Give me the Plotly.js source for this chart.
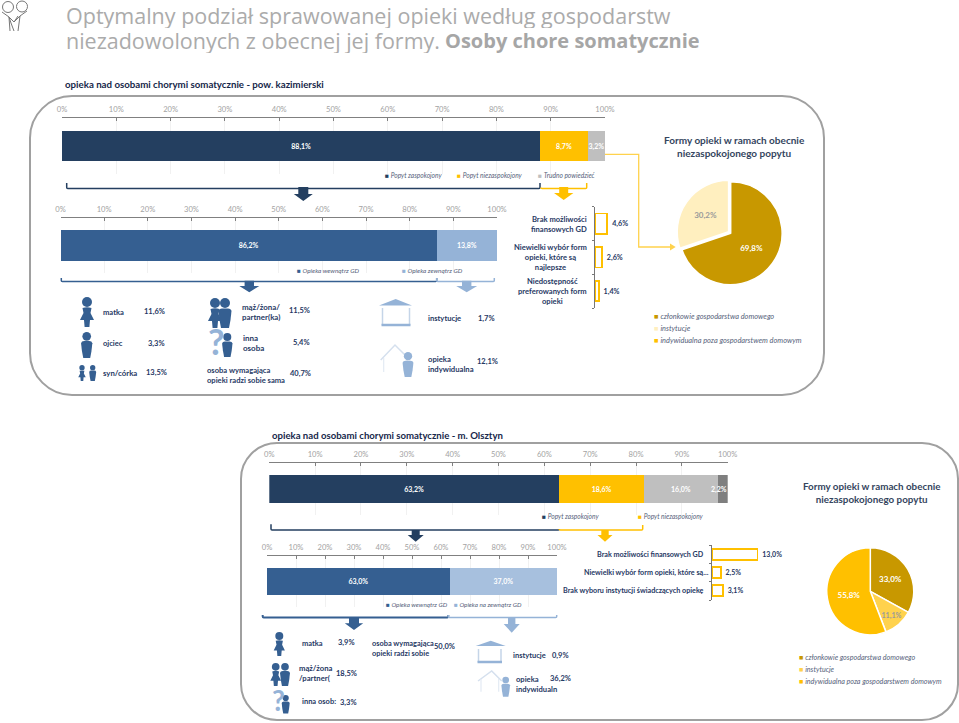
<!DOCTYPE html>
<html><head><meta charset="utf-8">
<script src="https://cdn.plot.ly/plotly-3.0.1.min.js"></script>
<style>html,body{margin:0;padding:0;background:#fff}</style></head><body>
<div id="chart" style="width:959px;height:723px"></div>
<script>
// ---------- data ----------
const percentTicks = [0,10,20,30,40,50,60,70,80,90,100];
const demandNames = ['Popyt zaspokojony','Popyt niezaspokojony','Trudno powiedzieć'];
const kazDemand = [88.1, 8.7, 3.2];
const olsDemandNames = ['Popyt zaspokojony','Popyt niezaspokojony','Trudno powiedzieć','Brak odpowiedzi'];
const olsDemand = [63.2, 18.6, 16.0, 2.2];
const kazCareNames = ['Opieka wewnątrz GD','Opieka zewnątrz GD'];
const kazCare = [86.2, 13.8];
const olsCareNames = ['Opieka wewnątrz GD','Opieka na zewnątrz GD'];
const olsCare = [63.0, 37.0];
const kazReasons = ['Brak możliwości<br>finansowych GD','Niewielki wybór form<br>opieki, które są<br>najlepsze','Niedostępność<br>preferowanych form<br>opieki'];
const kazReasonValues = [4.6, 2.6, 1.4];
const olsReasons = ['Brak możliwości finansowych GD','Niewielki wybór form opieki, które są...','Brak wyboru instytucji świadczących opiekę'];
const olsReasonValues = [13.0, 2.5, 3.1];
const formNames = ['członkowie gospodarstwa domowego','instytucje','indywidualna poza gospodarstwem domowym'];
const kazForms = [69.8, 30.2];
const olsForms = [33.0, 11.1, 55.8];
const kazWhoLabels = ['matka','ojciec','syn/córka','mąż/żona/<br>partner(ka)','inna<br>osoba','osoba wymagająca<br>opieki radzi sobie sama','instytucje','opieka<br>indywidualna'];
const kazWhoValues = [11.6, 3.3, 13.5, 11.5, 5.4, 40.7, 1.7, 12.1];
const olsWhoLabels = ['matka','mąż/żona<br>/partner(','inna osob:','osoba wymagająca<br>opieki radzi sobie','instytucje','opieka<br>indywidualn'];
const olsWhoValues = [3.9, 18.5, 3.3, 50.0, 0.9, 36.2];

// ---------- palette & helpers ----------
const W=959,H=723, FONT='Lato, "Open Sans", sans-serif';
const NAVY='#243F60',BLUE='#355F91',LBLUE='#95B3D7',LBLUE2='#A7C0DE',YEL='#FFC000',GREY='#BFBFBF',DGREY='#7F7F7F',GOLD='#C89800',PALE='#FFEFBF',MID='#FFD24D',INK='#1F3864',LEG='#55617A';
const px=x=>x/W, py=y=>1-y/H;
const pct=v=>v.toFixed(1).replace('.',',')+'%';
const shapes=[], annotations=[];
function path(d,o){ // d uses pixel pairs "x,y"
  const c=d.replace(/(-?[\d.]+),(-?[\d.]+)/g,(m,a,b)=>px(+a).toFixed(5)+','+py(+b).toFixed(5));
  shapes.push({type:'path',xref:'paper',yref:'paper',path:c,line:{color:o.line||'rgba(0,0,0,0)',width:o.w===undefined?0:o.w},fillcolor:o.fill||'rgba(0,0,0,0)',layer:'above'});
}
function circle(cx,cy,r,o){
  shapes.push({type:'circle',xref:'paper',yref:'paper',x0:px(cx-r),x1:px(cx+r),y0:py(cy+r),y1:py(cy-r),line:{color:o.line||'rgba(0,0,0,0)',width:o.w||0},fillcolor:o.fill||'rgba(0,0,0,0)',layer:'above'});
}
function text(x,y,t,o={}){
  const a={xref:'paper',yref:'paper',x:px(x),y:py(y),text:t,showarrow:false,xanchor:o.anchor||'left',yanchor:'middle',align:o.align||o.anchor||'left',
    font:{family:o.family||FONT,size:o.size||9,color:o.color||INK},borderpad:0};
  if(o.height) a.height=o.height;
  annotations.push(a);
}
function bold(s){return '<b>'+s+'</b>';}
function frame(l,t,r,b,c){
  path(`M ${l+c},${t} L ${r-c},${t} C ${r-c*0.45},${t} ${r},${t+c*0.45} ${r},${t+c} L ${r},${b-c} C ${r},${b-c*0.45} ${r-c*0.45},${b} ${r-c},${b} L ${l+c},${b} C ${l+c*0.45},${b} ${l},${b-c*0.45} ${l},${b-c} L ${l},${t+c} C ${l},${t+c*0.45} ${l+c*0.45},${t} ${l+c},${t} Z`,{line:'#A0A0A0',w:2});
}
function arrow(cx,top,sh,tip,hw,sw,color){
  path(`M ${cx-sw},${top} L ${cx+sw},${top} L ${cx+sw},${sh} L ${cx+hw},${sh} L ${cx},${tip} L ${cx-hw},${sh} L ${cx-sw},${sh} Z`,{fill:color});
}
function bracket(x0,y0,yb,x1,y1,color,w){
  path(`M ${x0},${y0} L ${x0},${yb-1} Q ${x0},${yb} ${x0+1},${yb} L ${x1-1},${yb} Q ${x1},${yb} ${x1},${yb-1} L ${x1},${y1}`,{line:color,w:w||1.5});
}
function female(cx,top,h,color){
  const u=h/30,Y=v=>top+v*u,X=v=>cx+v*u;
  circle(cx,Y(5),5*u,{fill:color});
  path(`M ${X(-4.5)},${Y(11)} Q ${X(0)},${Y(9.5)} ${X(4.5)},${Y(11)} L ${X(3.5)},${Y(16)} L ${X(7)},${Y(23)} L ${X(3)},${Y(23)} L ${X(2.4)},${Y(30)} L ${X(-2.4)},${Y(30)} L ${X(-3)},${Y(23)} L ${X(-7)},${Y(23)} L ${X(-3.5)},${Y(16)} Z`,{fill:color});
}
function male(cx,top,h,color){
  const u=h/30,Y=v=>top+v*u,X=v=>cx+v*u;
  circle(cx,Y(5),5*u,{fill:color});
  path(`M ${X(-6.5)},${Y(13)} Q ${X(-6)},${Y(10.5)} ${X(-3)},${Y(10.5)} L ${X(3)},${Y(10.5)} Q ${X(6)},${Y(10.5)} ${X(6.5)},${Y(13)} L ${X(5.5)},${Y(22)} L ${X(4)},${Y(30)} L ${X(-4)},${Y(30)} L ${X(-5.5)},${Y(22)} Z`,{fill:color});
}
function institution(l,cx,r,roofY,apexY,wl,wr,wt,wb,color){
  path(`M ${l},${roofY} L ${cx},${apexY} L ${r},${roofY} Z`,{fill:color});
  path(`M ${wl},${wt} L ${wl},${wb}`,{line:'#C5D5E8',w:1.5});
  path(`M ${wr},${wt} L ${wr},${wb}`,{line:'#C5D5E8',w:1.5});
  path(`M ${wl-1},${wb} L ${wr+1},${wb}`,{line:color,w:2.5});
}
function home(l,ax,ay,r,ry,wb){
  path(`M ${l},${ry} L ${ax},${ay} L ${r},${ry}`,{line:'#D5E0EE',w:1.5});
  path(`M ${l+3},${ry-2} L ${l+3},${wb}`,{line:'#E3EAF3',w:1.2});
  path(`M ${r-3},${ry-2} L ${r-3},${wb}`,{line:'#E3EAF3',w:1.2});
}
function legendRow(y,names,colors,xs,size){
  names.forEach((n,i)=>text(xs[i],y,`<span style="color:${colors[i]}">■</span> <i>${n}</i>`,{size,color:LEG}));
}

// ---------- decoration ----------
frame(30,96,824,395,42);
frame(241,443,958,720,36);
// top-left logo
circle(8,7,5.5,{line:'#777',w:1}); circle(22,6.5,5.5,{line:'#777',w:1});
path('M 2,12 L 9,17 L 14,22 L 20,16 L 27,11',{line:'#777',w:1});
path('M 9,17 L 10,31 M 9,17 L 11,23 L 14,31 M 20,16 L 18,31 M 14,22 L 18,16',{line:'#777',w:1});
// title
const TF='"Open Sans",sans-serif';
text(65,15,'Optymalny podział sprawowanej opieki według gospodarstw',{size:21.5,color:'#ABABAB',family:TF,height:25});
text(65,40,'niezadowolonych z obecnej jej formy.',{size:21.5,color:'#ABABAB',family:TF,height:25});
text(444,40,'<b>Osoby chore somatycznie</b>',{size:20,color:'#A6A6A6',family:TF,height:25});
// section titles
text(64,84,bold('opieka nad osobami chorymi somatycznie - pow. kazimierski'),{size:9.7,color:'#16274A'});
text(271,435,bold('opieka nad osobami chorymi somatycznie - m. Olsztyn'),{size:9.6,color:'#16274A'});
// legends
legendRow(175,demandNames,[NAVY,YEL,GREY],[384,456,537],6.6);
legendRow(270.7,kazCareNames,[BLUE,LBLUE],[296,401],6.4);
legendRow(515.7,olsDemandNames.slice(0,2),[NAVY,YEL],[541,637],6.6);
legendRow(604,olsCareNames,[BLUE,LBLUE],[385,453],6.3);
[316.7,328.7,340.7].forEach((y,i)=>legendRow(y,[formNames[i]],[[GOLD,PALE,YEL][i]],[653],7.4));
[657.7,669.7,681.7].forEach((y,i)=>legendRow(y,[formNames[i]],[[GOLD,MID,YEL][i]],[798],7.15));
// pie headings
text(734,146.5,bold('Formy opieki w ramach obecnie<br>niezaspokojonego popytu'),{size:10,color:'#34455E',anchor:'center',align:'center'});
text(871,492.5,bold('Formy opieki w ramach obecnie<br>niezaspokojonego popytu'),{size:9.8,color:'#34455E',anchor:'center',align:'center'});
// brackets & arrows
bracket(66.7,183,188.5,540,183,NAVY); bracket(541,188.5,188.5,586.7,183,YEL);
arrow(303.3,187,194,201,9.5,5,NAVY); arrow(563.7,187,193,200,9.7,4.5,YEL);
bracket(61.3,278,281.5,436.7,278,BLUE); bracket(436.7,278,281.5,494.3,278,LBLUE);
arrow(249.3,280.7,286,292.3,10,4.7,BLUE); arrow(466.7,280.7,286,292.3,10.5,4.7,LBLUE);
bracket(271,524.3,530,559.3,530,NAVY); bracket(559.3,530,530,642.7,525,YEL);
arrow(415.7,530,535,541.7,8,4,NAVY); arrow(605,530,535,541.7,7.5,3.7,YEL);
bracket(262.7,615,617.5,448.3,615,BLUE,2); bracket(448.3,615,617.5,556.7,615,LBLUE);
arrow(354,617,623.3,630,9.2,5,BLUE); arrow(511.7,617,624,632.7,8,3.7,LBLUE);
// connector to the pie
path('M 605,154.3 L 638.7,154.3 L 638.7,247 L 671,247',{line:MID,w:1.3});
path('M 670,243.5 L 675.7,247 L 670,250.5 Z',{fill:MID});
// icons – kazimierski
female(87,297,30,BLUE); male(86.7,332,26,BLUE); female(82,365,16,BLUE); male(92.7,365,16,BLUE);
female(215,298,30,BLUE); male(225,298,30,BLUE);
text(216,341,'<b>?</b>',{size:36,color:LBLUE,anchor:'center'});
male(227.3,333,24,BLUE);
institution(379,395.7,412,305.5,299,382.5,409.5,308,325,LBLUE);
home(380.7,395,345,410,360,372); male(408,352,25,LBLUE);
// icons – Olsztyn
female(279.3,632,24,BLUE); female(275.7,663,23,BLUE); male(285,663,23,BLUE);
text(278,700,'<b>?</b>',{size:28,color:LBLUE,anchor:'center'});
male(285.7,695,18.5,BLUE);
institution(475.7,490.7,505.7,646,640.7,478.5,501,649,662,LBLUE);
home(478,491.7,671,501.7,681,691.7); male(505.7,676.7,20,LBLUE);
// labelled lists
const kazLabelPos=[[102,311.7],[102,343],[102,372.7],[241,312.3],[242,343],[205.7,375],[426.7,318],[426.7,364]];
const kazValuePos=[[165.7,311.7],[165.7,343],[168,372.7],[311,310.7],[311,342.7],[312,373.7],[495.7,318],[499,361.7]];
const kazLabelSize=[7.6,7.5,7.8,7.9,8,7.6,7.6,7.7];
kazWhoLabels.forEach((t,i)=>{text(kazLabelPos[i][0],kazLabelPos[i][1],bold(t),{size:kazLabelSize[i]});text(kazValuePos[i][0],kazValuePos[i][1],bold(pct(kazWhoValues[i])),{size:7.5,anchor:'right'});});
const olsLabelPos=[[300.7,643],[298,673],[301,701.7],[371,648.5],[511.7,655],[515,683.7]];
const olsValuePos=[[355.7,642.7],[357.7,673],[357.7,702],[455.7,646],[570,655],[571.7,678]];
const olsLabelSize=[7.5,7.7,7.5,7.4,7.5,7.6];
olsWhoLabels.forEach((t,i)=>{text(olsLabelPos[i][0],olsLabelPos[i][1],bold(t),{size:olsLabelSize[i]});text(olsValuePos[i][0],olsValuePos[i][1],bold(pct(olsWhoValues[i])),{size:7.5,anchor:'right'});});

// ---------- axes ----------
const layout={width:W,height:H,margin:{l:0,r:0,t:0,b:0},paper_bgcolor:'#fff',plot_bgcolor:'rgba(0,0,0,0)',showlegend:false,
  barmode:'stack',bargap:0.4,separators:', ',font:{family:FONT},shapes,annotations};
function pctAxes(n,l,r,t,b){
  layout['xaxis'+(n>1?n:'')]={domain:[px(l),px(r)],range:[0,100],side:'top',anchor:'y'+(n>1?n:''),tickmode:'array',tickvals:percentTicks,ticktext:percentTicks.map(v=>v+'%'),
    ticks:'inside',ticklen:3,tickcolor:'#808080',ticklabelstandoff:2,showline:true,linecolor:'#808080',linewidth:1.2,showgrid:true,gridcolor:'#F1F1F1',zeroline:false,
    tickfont:{size:7.6,color:'#A3A3A3',family:FONT}};
  layout['yaxis'+(n>1?n:'')]={domain:[py(b),py(t)],range:[-0.5,0.5],anchor:'x'+(n>1?n:''),visible:false,type:'linear',fixedrange:true};
}
pctAxes(1,62,605,118,174);
pctAxes(2,60.5,497,218,272.8);
pctAxes(3,269.3,727.7,462.7,515.3);
pctAxes(4,267,557,555.7,607.3);
function reasonAxes(n,l,r,t,b,maxV){
  layout['xaxis'+n]={domain:[px(l),px(r)],range:[0,maxV],anchor:'y'+n,visible:false};
  layout['yaxis'+n]={domain:[py(b),py(t)],range:[2.5,-0.5],anchor:'x'+n,type:'linear',showline:true,linecolor:'#777',linewidth:1.2,
    tickmode:'array',tickvals:[-0.5,0.5,1.5,2.5],ticks:'outside',ticklen:2,tickcolor:'#777',showticklabels:false,showgrid:false,zeroline:false};
}
reasonAxes(5,595,640,206.7,308,16.85);
reasonAxes(6,712,800,545,600,25.14);

// ---------- traces ----------
const traces=[];
function stack(n,names,values,colors,width,skipLabel){
  const s=n>1?n:'';
  names.forEach((name,i)=>traces.push({type:'bar',orientation:'h',name,x:[values[i]],y:[0],width,xaxis:'x'+s,yaxis:'y'+s,marker:{color:colors[i]},
    texttemplate:skipLabel===i?'':'<b>%{x:.1f}%</b>',textposition:skipLabel===i?'none':'inside',insidetextanchor:'middle',constraintext:'none',textangle:0,
    textfont:{size:7,color:'#fff',family:FONT},cliponaxis:false,hoverinfo:'name+x'}));
}
stack(1,demandNames,kazDemand,[NAVY,YEL,GREY],0.541);
stack(2,kazCareNames,kazCare,[BLUE,LBLUE],0.56);
stack(3,olsDemandNames,olsDemand,[NAVY,YEL,GREY,DGREY],0.532,3);
stack(4,olsCareNames,olsCare,[BLUE,LBLUE2],0.535);
annotations.push({xref:'x3',yref:'y3',x:100,y:0,text:bold(pct(olsDemand[3])),showarrow:false,xanchor:'right',yanchor:'middle',font:{size:7,color:'#fff',family:FONT},borderpad:0});
function reasons(n,values,fs){
  traces.push({type:'bar',orientation:'h',x:values,y:[0,1,2],xaxis:'x'+n,yaxis:'y'+n,width:0.6,marker:{color:'#fff',line:{color:'#FFC000',width:1.8}},
    texttemplate:'\u00A0<b>%{x:.1f}%</b>',textposition:'outside',constraintext:'none',cliponaxis:false,textfont:{size:fs,color:INK,family:FONT},hoverinfo:'x'});
}
reasons(5,kazReasonValues,7.2);
reasons(6,olsReasonValues,7);
kazReasons.forEach((t,i)=>annotations.push({xref:'paper',yref:'y5',x:px(587.5),y:i,text:bold(t),showarrow:false,xanchor:'right',yanchor:'middle',align:i===0?'right':'center',font:{family:FONT,size:7.6,color:INK},borderpad:0}));
olsReasons.forEach((t,i)=>annotations.push({xref:'paper',yref:'y6',x:px(i===1?710:705),y:i,text:bold(t),showarrow:false,xanchor:'right',yanchor:'middle',font:{family:FONT,size:7.2,color:INK},borderpad:0}));
function pie(values,colors,labels,txtColors,cx,cy,R,pull){
  traces.push({type:'pie',values,labels,sort:false,direction:'clockwise',rotation:0,pull,
    domain:{x:[px(cx-R),px(cx+R)],y:[py(cy+R),py(cy-R)]},marker:{colors,line:{color:'#fff',width:1.5}},
    texttemplate:'<b>%{value:.1f}%</b>',textposition:'inside',insidetextorientation:'horizontal',
    insidetextfont:{size:8,color:txtColors,family:FONT},showlegend:false,hoverinfo:'label+value'});
}
pie(kazForms,[GOLD,PALE],formNames.slice(0,2),['#fff','#9A9A9A'],730.7,233.3,54,[0,0.05]);
pie(olsForms,[GOLD,MID,YEL],formNames,['#fff','#9A9A9A','#fff'],870.3,591.3,43.5,0);

Plotly.newPlot('chart',traces,layout,{displayModeBar:false,responsive:false});
</script></body></html>
